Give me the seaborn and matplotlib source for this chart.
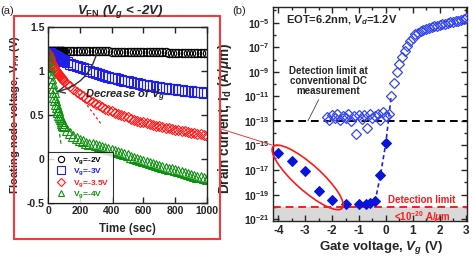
import numpy as np
import matplotlib
matplotlib.use('Agg')
import matplotlib.pyplot as plt
import matplotlib.patches as mpatches
import matplotlib.lines as mlines
import matplotlib.transforms as mtransforms
from matplotlib.ticker import FixedLocator, NullFormatter
import seaborn as sns

# ---- panel (a): floating node voltage vs time ----
time_s = [0, 5, 10, 15, 20, 25, 30, 35, 40, 45, 50, 55, 60, 65, 70, 75, 80, 85, 90, 95, 100,
          120, 140, 160, 180, 200, 220, 240, 260, 280, 300, 320, 340, 360, 380, 400,
          420, 440, 460, 480, 500, 520, 540, 560, 580, 600, 620, 640, 660, 680, 700,
          720, 740, 760, 780, 800, 820, 840, 860, 880, 900, 920, 940, 960, 980, 1000]

vfn_vg_m2 = [1.22, 1.225, 1.23, 1.23, 1.23, 1.232, 1.23, 1.23, 1.231, 1.23, 1.23, 1.23, 1.229,
             1.23, 1.23, 1.229, 1.23, 1.229, 1.229, 1.229, 1.229,
             1.228, 1.228, 1.227, 1.227, 1.226, 1.226, 1.225, 1.225, 1.224, 1.224, 1.223, 1.223,
             1.222, 1.222, 1.221,
             1.221, 1.220, 1.220, 1.219, 1.219, 1.218, 1.218, 1.217, 1.216, 1.216, 1.215, 1.214,
             1.214, 1.213, 1.212,
             1.212, 1.211, 1.210, 1.210, 1.209, 1.208, 1.208, 1.207, 1.206, 1.206, 1.205, 1.204,
             1.203, 1.202, 1.201]

vfn_vg_m3 = [1.21, 1.205, 1.20, 1.195, 1.19, 1.185, 1.18, 1.175, 1.17, 1.165, 1.16, 1.155, 1.15,
             1.145, 1.14, 1.135, 1.13, 1.126, 1.122, 1.118, 1.114,
             1.100, 1.085, 1.070, 1.055, 1.040, 1.030, 1.020, 1.005, 0.990, 0.975, 0.965, 0.955,
             0.945, 0.935, 0.925,
             0.915, 0.905, 0.897, 0.889, 0.881, 0.874, 0.867, 0.860, 0.853, 0.846, 0.840, 0.834,
             0.828, 0.822, 0.816,
             0.811, 0.806, 0.801, 0.796, 0.791, 0.786, 0.782, 0.778, 0.774, 0.770, 0.766, 0.762,
             0.758, 0.754, 0.750]

vfn_vg_m35 = [1.20, 1.17, 1.145, 1.12, 1.10, 1.08, 1.06, 1.045, 1.03, 1.015, 1.00, 0.99, 0.975,
              0.965, 0.955, 0.945, 0.935, 0.92, 0.91, 0.90, 0.89,
              0.855, 0.825, 0.795, 0.765, 0.740, 0.715, 0.690, 0.670, 0.650, 0.630, 0.610, 0.590,
              0.570, 0.555, 0.540,
              0.525, 0.510, 0.497, 0.485, 0.472, 0.460, 0.448, 0.437, 0.426, 0.416, 0.406, 0.397,
              0.388, 0.380, 0.372,
              0.364, 0.356, 0.349, 0.342, 0.335, 0.328, 0.321, 0.314, 0.307, 0.300, 0.293, 0.286,
              0.279, 0.272, 0.265]

vfn_vg_m4 = [1.20, 1.12, 1.05, 0.98, 0.92, 0.865, 0.81, 0.76, 0.71, 0.67, 0.63, 0.595, 0.56,
             0.53, 0.50, 0.475, 0.45, 0.43, 0.41, 0.39, 0.37,
             0.325, 0.290, 0.260, 0.235, 0.215, 0.200, 0.185, 0.175, 0.165, 0.155, 0.145, 0.135,
             0.125, 0.115, 0.105,
             0.093, 0.080, 0.067, 0.054, 0.041, 0.028, 0.016, 0.004, -0.008, -0.020, -0.031,
             -0.042, -0.053, -0.064, -0.075,
             -0.086, -0.097, -0.108, -0.119, -0.130, -0.140, -0.150, -0.160, -0.170, -0.180,
             -0.190, -0.200, -0.210, -0.220, -0.230]

# initial-slope guide lines
tangent_red_t = [0, 340]
tangent_red_v = [1.2, 0.385]
tangent_green_t = [0, 82]
tangent_green_v = [1.2, 0.17]

legend_labels = [r'$\mathrm{V}_{\mathrm{g}}$=-2V', r'$\mathrm{V}_{\mathrm{g}}$=-3V',
                 r'$\mathrm{V}_{\mathrm{g}}$=-3.5V', r'$\mathrm{V}_{\mathrm{g}}$=-4V']

# ---- panel (b): drain current vs gate voltage (log10 A/um) ----
vg_pulse = [-4.0, -3.5, -3.0, -2.5, -2.0, -1.5, -1.0, -0.75, -0.6, -0.4, -0.2, 0.0]
log_id_pulse = [-15.6, -16.25, -17.1, -18.67, -19.4, -19.8, -19.77, -19.77, -19.7, -19.56,
                -17.4, -14.8]

vg_dc = [-2.2, -2.1, -2.0, -1.9, -1.8, -1.7, -1.6, -1.5, -1.4, -1.3, -1.2, -1.1, -1.0, -0.9,
         -0.8, -0.7, -0.6, -0.5, -0.4, -0.3, -0.2, -0.1, 0.0, 0.1,
         0.2, 0.3, 0.4, 0.5, 0.6, 0.7, 0.8, 0.9, 1.0,
         1.1, 1.2, 1.3, 1.4, 1.5, 1.6, 1.7, 1.8, 1.9, 2.0, 2.1, 2.2, 2.3, 2.4, 2.5, 2.6, 2.7,
         2.8, 2.9, 3.0]
log_id_dc = [-12.7, -12.9, -12.5, -12.8, -12.4, -12.9, -12.6, -12.75, -12.45, -13.0, -12.6,
             -14.1, -12.5, -12.85, -12.55, -13.6, -12.4, -12.8, -12.6, -12.45, -12.9, -12.3,
             -12.6, -12.4,
             -10.94, -9.89, -9.0, -8.37, -7.77, -7.28, -6.88, -6.52, -6.23,
             -5.95, -5.8, -5.68, -5.58, -5.5, -5.42, -5.35, -5.29, -5.23, -5.18, -5.13, -5.08,
             -5.03, -4.98, -4.93, -4.88, -4.83, -4.77, -4.71, -4.65]

vg_fit = [-0.4, -0.2, 0.0, 0.2]
log_id_fit = [-19.56, -17.4, -14.8, -10.94]

dc_limit = 1e-13
pulse_limit = 1e-20

BLUE = '#1f1fe6'
RED = '#ff1a1a'
GREEN = '#109010'
FRAME_RED = '#ee3b3b'

sns.set_theme(style='ticks')
plt.rcParams['font.family'] = ['Liberation Sans', 'DejaVu Sans']
plt.rcParams['font.weight'] = 'bold'
plt.rcParams['mathtext.fontset'] = 'custom'
plt.rcParams['mathtext.rm'] = 'Liberation Sans:bold'
plt.rcParams['mathtext.bf'] = 'Liberation Sans:bold'
plt.rcParams['mathtext.it'] = 'Liberation Sans:italic:bold'
plt.rcParams['axes.linewidth'] = 1.0

fig = plt.figure(figsize=(4.72, 2.59), dpi=100)
W, H = 472, 259


def px_axes(left, top, right, bottom):
    return [left / W, 1 - bottom / H, (right - left) / W, (bottom - top) / H]


ax_a = fig.add_axes(px_axes(48, 27, 207, 203))
ax_b = fig.add_axes(px_axes(273, 7, 467, 221))

for ax in (ax_a, ax_b):
    ax.tick_params(which='both', direction='in', top=True, right=True,
                   labelsize=7.5, width=1.0, pad=2.5)
    ax.tick_params(which='major', length=4)
    ax.tick_params(which='minor', length=2.5)
    ax.set_facecolor('white')
ax_b.tick_params(axis='x', labelsize=8.5, pad=3)

# ---- panel (a) ----
ax_a.plot(tangent_red_t, tangent_red_v, ls=(0, (2, 2)), color=RED, lw=0.9, zorder=1)
ax_a.plot(tangent_green_t, tangent_green_v, ls=(0, (3, 2)), color=GREEN, lw=0.9, zorder=1)

series_a = [(vfn_vg_m2, 'o', 'black', 6.0), (vfn_vg_m3, 's', BLUE, 6.8),
            (vfn_vg_m35, 'D', RED, 5.6), (vfn_vg_m4, '^', GREEN, 6.6)]
for (vals, mk, col, ms), lab in zip(series_a, legend_labels):
    sns.lineplot(x=time_s, y=vals, ax=ax_a, estimator=None, sort=False,
                 linestyle='none', marker=mk, markersize=ms,
                 markerfacecolor='none', markeredgecolor=col, markeredgewidth=0.8,
                 color=col, label=lab, zorder=2)

ax_a.set_xlim(0, 1000)
ax_a.set_ylim(-0.5, 1.5)
ax_a.set_xticks([0, 200, 400, 600, 800, 1000])
ax_a.set_yticks([-0.5, 0, 0.5, 1, 1.5])
ax_a.set_yticklabels(['-0.5', '0', '0.5', '1', '1.5'])
ax_a.set_xlabel('Time (sec)', fontsize=8.3, fontweight='bold')
ax_a.set_ylabel(r'Floating node voltage, $\mathrm{V}_{\mathrm{FN}}$ (V)', fontsize=8,
                fontweight='bold')
ax_a.xaxis.set_label_coords(0.5, -0.115)
ax_a.yaxis.set_label_coords(-0.165, 0.5)

leg = ax_a.legend(loc='lower left', bbox_to_anchor=(0.0, 0.0), borderaxespad=0,
                  fontsize=6.0, frameon=True, fancybox=False, edgecolor='black',
                  handletextpad=0.3, handlelength=2.4, labelspacing=0.08,
                  borderpad=0.35, markerscale=0.75)
leg.get_frame().set_linewidth(0.8)
for txt, (_, _, col, _) in zip(leg.get_texts(), series_a):
    txt.set_color(col)

ax_a.annotate('', xy=(55, 0.765), xytext=(306, 1.2),
              arrowprops=dict(arrowstyle='->', color='#333333', lw=1.0,
                              shrinkA=0, shrinkB=0, connectionstyle='arc3,rad=-0.3'))
ax_a.text(484, 0.716, r'Decrease of $V_g$', fontsize=8, fontweight='bold',
          fontstyle='italic', ha='center', va='center')

fig.text(120 / W, 1 - 11 / H, r'$V_{\mathrm{FN}}$ ($V_{g}$ < -2V)', fontsize=9.5,
         fontweight='bold', fontstyle='italic', ha='center', va='center')
fig.text(0.0, 1 - 11 / H, '(a)', fontsize=8, fontweight='normal', va='center')
fig.text(232 / W, 1 - 11 / H, '(b)', fontsize=8, fontweight='normal', va='center')

fig.add_artist(mpatches.Rectangle((14 / W, 1 - 239 / H), (220 - 14) / W, (239 - 16) / H,
                                  transform=fig.transFigure, fill=False,
                                  edgecolor=FRAME_RED, lw=1.5))
fig.add_artist(mlines.Line2D([221 / W, 272 / W], [1 - 129 / H, 1 - 145 / H],
                             transform=fig.transFigure, color=FRAME_RED, lw=0.7))

# ---- panel (b) ----
ax_b.set_yscale('log')
ylo, yhi = 10 ** -21.15, 10 ** -3.72
ax_b.set_xlim(-4.2, 3.02)
ax_b.set_ylim(ylo, yhi)

ax_b.axhspan(ylo, pulse_limit, color='#d9d9d9', zorder=0, lw=0)
ax_b.axhline(pulse_limit, color=RED, ls=(0, (4, 2.5)), lw=1.4, zorder=1)
ax_b.axhline(dc_limit, color='black', ls=(0, (4, 2.5)), lw=1.4, zorder=1)

sns.lineplot(x=vg_fit, y=10 ** np.array(log_id_fit), ax=ax_b, estimator=None, sort=False,
             color=BLUE, lw=1.2, linestyle=(0, (2.5, 1.8)), zorder=2)
sns.lineplot(x=vg_dc, y=10 ** np.array(log_id_dc), ax=ax_b, estimator=None, sort=False,
             linestyle='none', marker='D', markersize=5.0, markerfacecolor='none',
             markeredgecolor='#3545f0', markeredgewidth=0.9, color=BLUE, zorder=3)
sns.lineplot(x=vg_pulse, y=10 ** np.array(log_id_pulse), ax=ax_b, estimator=None,
             sort=False, linestyle='none', marker='D', markersize=5.2,
             markerfacecolor='#0a14d8', markeredgecolor='#0a14d8', color=BLUE, zorder=3)

major_exp = [-21, -19, -17, -15, -13, -11, -9, -7, -5]
ax_b.yaxis.set_major_locator(FixedLocator([10.0 ** e for e in major_exp]))
ax_b.set_yticklabels([r'$10^{%d}$' % e for e in major_exp])
ax_b.yaxis.set_minor_locator(FixedLocator([10.0 ** e for e in range(-20, -3, 2)]))
ax_b.yaxis.set_minor_formatter(NullFormatter())
ax_b.set_xticks([-4, -3, -2, -1, 0, 1, 2, 3])
ax_b.set_xticks(np.arange(-4, 3.01, 0.5), minor=True)
ax_b.set_xticklabels(['-4', '-3', '-2', '-1', '0', '1', '2', '3'])

ax_b.set_xlabel(r'Gate voltage, $V_g$ (V)', fontsize=9.5, fontweight='bold')
ax_b.set_ylabel(r'Drain current, $\mathrm{I}_{\mathrm{d}}$ (A/$\mu$m)', fontsize=9.8,
                fontweight='bold')
ax_b.xaxis.set_label_coords(0.56, -0.085)
ax_b.yaxis.set_label_coords(-0.2, 0.48)
if ax_b.get_legend() is not None:
    ax_b.get_legend().remove()

ax_b.text(0.067, 0.94, r'EOT=6.2nm, $V_d$=1.2V', transform=ax_b.transAxes, fontsize=8,
          fontweight='bold', ha='left', va='center')
ax_b.annotate('Detection limit at\nconventional DC\nmeasurement', xy=(-2.9, dc_limit),
              xytext=(-2.15, 10 ** -9.75), fontsize=7, fontweight='bold', ha='center',
              va='center', multialignment='center', linespacing=1.05,
              arrowprops=dict(arrowstyle='-', color='#444444', lw=0.6,
                              shrinkA=0, shrinkB=0))
ax_b.text(1.35, 10 ** -19.4, 'Detection limit', color=RED, fontsize=7, fontweight='bold',
          ha='center', va='center')
ax_b.text(1.35, 10 ** -20.8, r'<10$^{-20}$ A/$\mu$m', color=RED, fontsize=7,
          fontweight='bold', ha='center', va='center')

# ellipse around the pulse-measured points below the DC limit
ell_tr = fig.dpi_scale_trans + mtransforms.ScaledTranslation(-2.91, 10 ** -17.6,
                                                             ax_b.transData)
ax_b.add_patch(mpatches.Ellipse((0, 0), width=0.925, height=0.26, angle=-41.8,
                                transform=ell_tr, fill=False, edgecolor=RED, lw=1.2,
                                clip_on=False, zorder=4))

fig.savefig('out.png', dpi=100)
